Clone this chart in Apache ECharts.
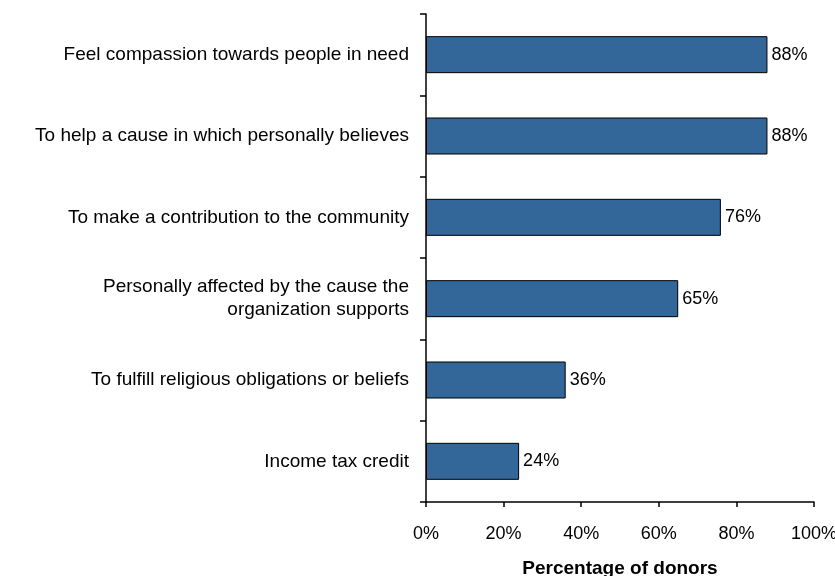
<!DOCTYPE html>
<html>
<head>
<meta charset="utf-8">
<script src="https://cdn.jsdelivr.net/npm/echarts@6/dist/echarts.min.js"></script>
<style>
  html, body { margin: 0; padding: 0; background: #fff; }
  #chart { width: 835px; height: 576px; }
</style>
</head>
<body>
<div id="chart"></div>
<script>
// Reasons for giving, top to bottom
const reasons = [
  'Feel compassion towards people in need',
  'To help a cause in which personally believes',
  'To make a contribution to the community',
  'Personally affected by the cause the\norganization supports',
  'To fulfill religious obligations or beliefs',
  'Income tax credit'
];
// Share of donors citing each reason (%)
const shares = [88, 88, 76, 65, 36, 24];
const axisTitle = 'Percentage of donors';

const chart = echarts.init(document.getElementById('chart'));
chart.setOption({
  animation: false,
  textStyle: { fontFamily: 'Liberation Sans, Arial, sans-serif' },
  grid: {
    left: 426, right: 21, top: 14, bottom: 74,
    outerBoundsMode: 'none',
    containLabel: false
  },
  xAxis: {
    type: 'value',
    min: 0,
    max: 100,
    interval: 20,
    name: axisTitle,
    nameLocation: 'middle',
    nameGap: 57,
    nameTextStyle: { fontSize: 19, fontWeight: 'bold', color: '#000' },
    axisLine: { show: true, lineStyle: { color: '#000', width: 1.5 } },
    axisTick: { show: true, length: 5, lineStyle: { color: '#000', width: 1.5 } },
    axisLabel: { formatter: '{value}%', fontSize: 18, color: '#000', margin: 23 },
    splitLine: { show: false }
  },
  yAxis: {
    type: 'category',
    inverse: true,
    data: reasons,
    axisLine: { show: true, lineStyle: { color: '#000', width: 1.5 } },
    axisTick: { show: true, length: 6, lineStyle: { color: '#000', width: 1.5 } },
    axisLabel: { fontSize: 19, color: '#000', margin: 17, lineHeight: 23, align: 'right' }
  },
  series: [{
    type: 'bar',
    data: shares,
    barWidth: 37,
    itemStyle: { color: '#336699', borderColor: '#000', borderWidth: 1 },
    label: {
      show: true,
      position: 'right',
      distance: 4,
      formatter: '{c}%',
      fontSize: 18,
      color: '#000'
    }
  }]
});
</script>
</body>
</html>
